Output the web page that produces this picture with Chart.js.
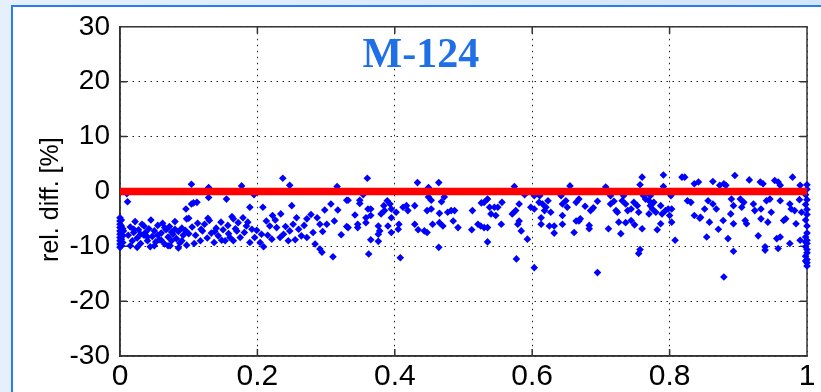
<!DOCTYPE html>
<html>
<head>
<meta charset="utf-8">
<script src="https://cdn.jsdelivr.net/npm/chart.js@4/dist/chart.umd.min.js"></script>
<style>
html, body { margin: 0; padding: 0; background: #fff; }
#chart { display: block; }
</style>
</head>
<body>
<canvas id="chart" width="821" height="392"></canvas>
<script>
const chartTitle = "M-124";
const yTitle = "rel. diff. [%]";
const xTicks = [0, 0.2, 0.4, 0.6, 0.8, 1];
const yTicks = [-30, -20, -10, 0, 10, 20, 30];
const zeroLineX = [0, 1];
const zeroLineY = [0, 0];

// [x, rel. diff %], left to right
const edgeLeft = [
    [0,-4.8],[0,-5.4],[0,-6],[0,-6.6],[0,-7.2],[0,-7.8],[0,-8.4],[0,-9],[0,-9.6],[0,-10.2],
    [0.002,-5.2],[0.002,-6.3],[0.002,-7.5],[0.002,-8.7],[0.002,-9.9],[0.004,-6.8],[0.004,-8.1],
    [0.004,-9.3],[0.005,-7.2]
];
const band0 = [
    [0.01,-0.4],[0.011,-1.9],[0.012,-8],[0.015,-6.5],[0.018,-9],[0.02,-7.5],[0.022,-5.5],[0.025,-8.5],
    [0.027,-7],[0.03,-9.5],[0.032,-6],[0.035,-8],[0.037,-7.5],[0.04,-9],[0.042,-6.8],[0.045,-5.2],
    [0.047,-8.2],[0.05,-7.2],[0.052,-9.2],[0.055,-6.2],[0.057,-8.8],[0.06,-7.6],[0.062,-5.8],[0.065,-9.6],
    [0.067,-7],[0.07,-8.3],[0.072,-6.4],[0.075,-9],[0.077,-7.8],[0.08,-5.5],[0.082,-8.6],[0.085,-7.3],
    [0.087,-9.4],[0.09,-6.7],[0.092,-8],[0.095,-7.1],[0.097,-9.8],[0.015,-9.9],[0.025,-10.2],[0.035,-6.3],
    [0.044,-10.1],[0.055,-8],[0.065,-6.6],[0.073,-9.9],[0.075,-7.4],[0.085,-10.3],[0.02,-6.9],[0.03,-7.8],
    [0.04,-8.3],[0.05,-9.9],[0.06,-8.9],[0.07,-9.9],[0.08,-6.9],[0.09,-9],[0.1,-7.7],[0.096,-3.2],[0.097,-5]
];
const band1 = [
    [0.104,1.3],[0.129,0.7],[0.129,-1.1],[0.107,-2.1],[0.112,-2],[0.104,-2.3],[0.155,-1.4],[0.1,-4.9],
    [0.105,-6.5],[0.11,-8],[0.113,-5.8],[0.117,-9],[0.12,-7.2],[0.123,-6],[0.127,-8.5],[0.13,-5.3],
    [0.133,-7.6],[0.137,-9.3],[0.14,-6.7],[0.143,-8.1],[0.147,-5.6],[0.15,-7],[0.153,-9],[0.157,-6.2],
    [0.16,-8.4],[0.163,-4.6],[0.108,-9.5],[0.118,-6.9],[0.128,-4.9],[0.138,-7.3],[0.148,-8.9],[0.158,-7.7]
];
const band2 = [
    [0.177,1],[0.237,2.4],[0.247,1.1],[0.195,-0.6],[0.316,0.9],[0.33,-1.6],[0.307,-2.3],[0.189,-2.9],
    [0.208,-2.9],[0.25,-2.6],[0.298,-3.4],[0.317,-3.4],[0.222,-4.4],[0.234,-4.1],[0.287,-4.8],[0.301,-6],
    [0.33,-6.4],[0.272,-5],[0.165,-5],[0.172,-5.7],[0.179,-4.8],[0.184,-6.3],[0.17,-7.2],[0.181,-7.5],
    [0.192,-6.9],[0.175,-8.4],[0.165,-9],[0.196,-8.4],[0.206,-7.8],[0.204,-9.3],[0.209,-10.1],[0.213,-5.4],
    [0.218,-6.3],[0.228,-6.6],[0.238,-7.8],[0.247,-7.2],[0.252,-6],[0.257,-4.8],[0.26,-6.9],[0.264,-8.1],
    [0.272,-8.4],[0.281,-7.5],[0.291,-6],[0.245,-9],[0.233,-8.4],[0.221,-8.7],[0.189,-9.3],[0.284,-9.6],
    [0.294,-11.1],[0.31,-11.9],[0.291,-10.5],[0.168,-6.8],[0.186,-5.6],[0.199,-7.1],[0.215,-8],[0.226,-5.2],
    [0.241,-6.4],[0.255,-8.8],[0.268,-6.2],[0.278,-4.2],[0.295,-7.3],[0.312,-5.4],[0.322,-7.9]
];
const band3 = [
    [0.36,2.4],[0.433,1.6],[0.464,1.6],[0.449,0.7],[0.354,-0.6],[0.349,-1.6],[0.349,-2.2],[0.449,-1],
    [0.453,-1.6],[0.472,-1],[0.468,-1.9],[0.332,-1.6],[0.342,-4.3],[0.361,-3.2],[0.365,-3.2],[0.365,-4.4],
    [0.358,-4.8],[0.358,-5.7],[0.384,-2.6],[0.389,-1.7],[0.393,-2.3],[0.395,-3.2],[0.385,-3.5],[0.38,-4.1],
    [0.395,-4.8],[0.402,-3.8],[0.412,-2.9],[0.417,-2.6],[0.419,-3.5],[0.429,-2.6],[0.346,-6],[0.346,-6.6],
    [0.332,-6.6],[0.376,-6.3],[0.378,-7.2],[0.376,-7.8],[0.39,-6.3],[0.395,-7.5],[0.405,-6.9],[0.406,-6],
    [0.429,-6],[0.434,-7],[0.443,-7.2],[0.447,-7.5],[0.447,-3.5],[0.453,-3.2],[0.455,-6],[0.465,-5.7],
    [0.47,-6.3],[0.465,-4],[0.477,-3.8],[0.482,-3.5],[0.487,-3.5],[0.485,-5.4],[0.492,-6.6],[0.365,-8.8],
    [0.376,-9.1],[0.362,-11.4],[0.408,-12.1],[0.464,-10.2]
];
const band4 = [
    [0.574,0.9],[0.655,1],[0.589,-0.6],[0.603,-0.8],[0.611,-0.8],[0.642,-0.8],[0.668,-1.4],[0.535,-1.4],
    [0.53,-2],[0.526,-2.1],[0.556,-2],[0.581,-2.3],[0.513,-3.5],[0.538,-2.9],[0.545,-2.9],[0.55,-2.9],
    [0.54,-4.1],[0.547,-4.4],[0.571,-4.1],[0.576,-3.5],[0.598,-2.9],[0.603,-3.2],[0.61,-2],[0.615,-2.3],
    [0.62,-2.9],[0.623,-1.7],[0.618,-3.5],[0.627,-3.8],[0.644,-2.3],[0.649,-1.7],[0.651,-2.9],[0.664,-2],
    [0.644,-4.4],[0.613,-4.8],[0.613,-6],[0.581,-5.4],[0.579,-6],[0.584,-7.2],[0.555,-6],[0.521,-6],
    [0.525,-6.3],[0.53,-6.6],[0.535,-6.6],[0.512,-7],[0.625,-6.3],[0.632,-6.3],[0.632,-7.6],[0.644,-6],
    [0.664,-5.4],[0.668,-5.4],[0.67,-5],[0.661,-7.5],[0.593,-8.7],[0.535,-9.2],[0.577,-12.3],[0.603,-13.9]
];
const band5 = [
    [0.791,3],[0.76,2.6],[0.818,2.6],[0.822,2.6],[0.836,1.4],[0.842,1.7],[0.757,1.2],[0.791,0.9],
    [0.707,0.8],[0.714,-0.8],[0.733,-0.8],[0.762,-0.8],[0.772,-0.8],[0.802,-0.8],[0.695,-1.8],[0.689,-3],
    [0.685,-3.5],[0.677,-2.7],[0.714,-2.3],[0.719,-1.8],[0.722,-3.5],[0.724,-3.8],[0.731,-1.7],[0.736,-2.3],
    [0.739,-3.5],[0.744,-3.2],[0.748,-2],[0.753,-2.6],[0.755,-3.8],[0.765,-1.4],[0.77,-1.7],[0.772,-2.6],
    [0.775,-3.2],[0.777,-2],[0.78,-3.8],[0.77,-4.1],[0.787,-2.6],[0.789,-4.1],[0.794,-3.5],[0.798,-3.2],
    [0.803,-3.2],[0.8,-4.4],[0.826,-1.7],[0.831,-2],[0.836,-4.4],[0.845,-4.7],[0.683,-6.2],[0.683,-6.8],
    [0.711,-6.8],[0.726,-5.6],[0.736,-5.7],[0.744,-5.3],[0.729,-7.7],[0.749,-6.1],[0.76,-6.8],[0.787,-5.9],
    [0.782,-7],[0.803,-5.6],[0.808,-8.9],[0.757,-10.6],[0.755,-11.3],[0.695,-14.8]
];
const band6 = [
    [0.895,2.9],[0.863,1.8],[0.879,1.4],[0.882,1.1],[0.873,1.1],[0.916,2.1],[0.932,1.7],[0.936,1.4],
    [0.953,2],[0.958,1.7],[0.961,1.1],[0.979,2.6],[0.99,1.1],[0.856,-1.7],[0.863,-2.3],[0.868,-3.2],
    [0.851,-3.2],[0.844,-4.9],[0.89,-1.4],[0.893,-2.6],[0.903,-1.4],[0.908,-2],[0.905,-2.9],[0.922,-2.3],
    [0.924,-3.5],[0.933,-3.2],[0.941,-1.7],[0.946,-1.4],[0.948,-3.8],[0.961,-1.7],[0.975,-2.3],[0.977,-3.2],
    [0.982,-3.5],[0.989,-1.5],[0.992,-3.8],[0.889,-4.1],[0.878,-5.3],[0.893,-5.9],[0.91,-5.3],[0.912,-5.9],
    [0.933,-5],[0.943,-5.6],[0.966,-5.3],[0.969,-5],[0.984,-5.9],[0.858,-5.6],[0.871,-6.9],[0.854,-8.3],
    [0.885,-8.6],[0.929,-8.1],[0.956,-8.6],[0.961,-8.3],[0.958,-10.4],[0.99,-8.9],[0.975,-9.5],[0.939,-10.1],
    [0.939,-10.7],[0.893,-10.9],[0.879,-15.6]
];
const edgeRight = [
    [1,1.2],[1,0.4],[0.998,-0.6],[1,-1.5],[0.998,-2.4],[1,-3.3],[1,-4.2],[0.998,-5.2],[1,-6.3],
    [1,-7.6],[0.998,-8.3],[1,-8.9],[1,-9.5],[0.998,-10.1],[1,-10.6],[1,-11.2],[0.998,-11.8],[1,-12.4],
    [1,-13],[1,-13.6],[0.998,-9.2],[0.998,-12.7]
];

const allPoints = [].concat(edgeLeft, band0, band1, band2, band3, band4, band5, band6, edgeRight);

const axisFont = "'Liberation Sans', Arial, sans-serif";

// light blue window frame behind the white figure
const framePlugin = {
    id: "frame",
    beforeDraw(chart) {
        const ctx = chart.ctx;
        ctx.save();
        const g = ctx.createLinearGradient(0, 0, chart.width, 0);
        g.addColorStop(0, "#e6f0fc");
        g.addColorStop(1, "#d3e5fa");
        ctx.fillStyle = g;
        ctx.fillRect(0, 0, chart.width, chart.height);
        ctx.fillStyle = "#ffffff";
        ctx.fillRect(12, 6, chart.width - 12, chart.height - 6);
        ctx.strokeStyle = "#2a7cf2";
        ctx.lineWidth = 2;
        ctx.beginPath();
        ctx.moveTo(12, chart.height);
        ctx.lineTo(12, 6);
        ctx.lineTo(chart.width, 6);
        ctx.stroke();
        ctx.restore();
    }
};

// matlab style box with inward ticks on all four sides
const boxPlugin = {
    id: "box",
    beforeDatasetsDraw(chart) {
        const {ctx, chartArea: a, scales} = chart;
        ctx.save();
        ctx.strokeStyle = "#333";
        ctx.lineWidth = 1.5;
        ctx.strokeRect(a.left, a.top, a.right - a.left, a.bottom - a.top);
        ctx.beginPath();
        xTicks.slice(1, -1).forEach(v => {
            const px = scales.x.getPixelForValue(v);
            ctx.moveTo(px, a.bottom); ctx.lineTo(px, a.bottom - 7);
            ctx.moveTo(px, a.top); ctx.lineTo(px, a.top + 7);
        });
        yTicks.slice(1, -1).forEach(v => {
            const py = scales.y.getPixelForValue(v);
            ctx.moveTo(a.left, py); ctx.lineTo(a.left + 7, py);
            ctx.moveTo(a.right, py); ctx.lineTo(a.right - 7, py);
        });
        ctx.stroke();
        ctx.restore();
    }
};

// title in the plot and the rotated y label
const textPlugin = {
    id: "plotText",
    afterDraw(chart) {
        const ctx = chart.ctx;
        const a = chart.chartArea;
        ctx.save();
        ctx.font = "bold 42px 'Liberation Serif', 'Times New Roman', serif";
        ctx.fillStyle = "#1f6fe6";
        ctx.textAlign = "center";
        ctx.textBaseline = "middle";
        ctx.fillText(chartTitle, a.left + (a.right - a.left) * 0.438, 56);

        ctx.font = "25px " + axisFont;
        ctx.fillStyle = "#000";
        ctx.translate(51, a.top + (a.bottom - a.top) * 0.525);
        ctx.rotate(-Math.PI / 2);
        ctx.fillText(yTitle, 0, 0);
        ctx.restore();
    }
};

new Chart(document.getElementById("chart"), {
    type: "scatter",
    data: {
        datasets: [
        {
            label: "zero",
            type: "line",
            data: zeroLineX.map((x, i) => ({x: x, y: zeroLineY[i]})),
            borderColor: "#ff0000",
            borderWidth: 7.5,
            pointRadius: 0,
            order: 0,
        },
        {
            label: "rel. diff.",
            data: allPoints.map(p => ({x: p[0], y: p[1]})),
            backgroundColor: "#0000ff",
            borderWidth: 0,
            pointStyle: "rectRot",
            pointRadius: 3.8,
            clip: false,
            order: 1,
        },
        ]
    },
    options: {
        responsive: false,
        animation: false,
        layout: {
            padding: {left: 0, right: 14, top: 25, bottom: 0}
        },
        scales: {
            x: {
                type: "linear",
                min: 0,
                max: 1,
                afterBuildTicks: (s) => { s.ticks = xTicks.map(v => ({value: v})); },
                afterFit: (s) => { s.height = 36; },
                ticks: {
                    color: "#000",
                    font: {family: axisFont, size: 30},
                    padding: 3,
                    maxRotation: 0,
                    autoSkip: false,
                    callback: (v) => String(v),
                },
                grid: {color: "#222", lineWidth: 1, drawTicks: false},
                border: {display: true, color: "#333", width: 1.5, dash: [1.5, 4.5]},
            },
            y: {
                min: -30,
                max: 30,
                afterBuildTicks: (s) => { s.ticks = yTicks.map(v => ({value: v})); },
                afterFit: (s) => { s.width = 120; },
                ticks: {
                    color: "#000",
                    font: {family: axisFont, size: 28},
                    padding: 10,
                    callback: (v) => String(v),
                },
                grid: {color: "#222", lineWidth: 1, drawTicks: false},
                border: {display: true, color: "#333", width: 1.5, dash: [1.5, 4.5]},
            }
        },
        plugins: {
            legend: {display: false},
            tooltip: {enabled: false},
        }
    },
    plugins: [framePlugin, boxPlugin, textPlugin]
});
</script>
</body>
</html>
